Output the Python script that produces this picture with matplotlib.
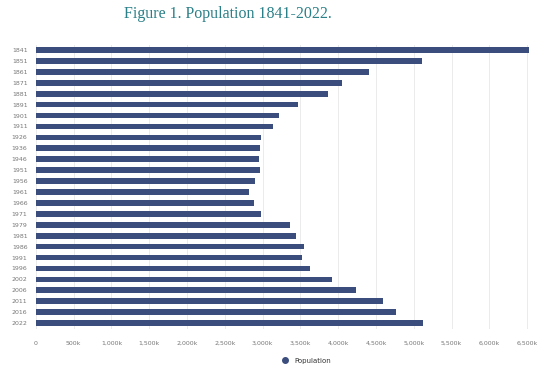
import numpy as np
import matplotlib.pyplot as plt
from matplotlib.ticker import FuncFormatter

years = ["1841", "1851", "1861", "1871", "1881", "1891", "1901", "1911", "1926",
         "1936", "1946", "1951", "1956", "1961", "1966", "1971", "1979", "1981",
         "1986", "1991", "1996", "2002", "2006", "2011", "2016", "2022"]
population = [6528799, 5111557, 4402111, 4053187, 3870020, 3468694, 3221823,
              3139688, 2971992, 2968420, 2955107, 2960593, 2898264, 2818341,
              2884002, 2978248, 3368217, 3443405, 3540643, 3525719, 3626087,
              3917203, 4239848, 4588252, 4761865, 5123536]
x_ticks = np.arange(0, 6500001, 500000)

bar_color = "#3a4d7d"

fig = plt.figure(figsize=(5.52, 3.71), dpi=100)
ax = fig.add_axes([0.065, 0.1145, 0.897, 0.7655])

ypos = np.arange(len(years))
ax.barh(ypos, population, height=0.52, color=bar_color, zorder=3, label="Population")
ax.set_ylim(len(years) - 0.5, -0.5)
ax.set_xlim(0, 6.55e6)
ax.set_yticks(ypos)
ax.set_yticklabels(years)
ax.set_xticks(x_ticks)
ax.xaxis.set_major_formatter(FuncFormatter(lambda v, p: "0" if v == 0 else "{:,.0f}k".format(v / 1000)))
ax.tick_params(axis="both", length=0, labelsize=4.5, colors="#777777")
ax.tick_params(axis="x", pad=9)
ax.tick_params(axis="y", pad=6)
ax.grid(axis="x", color="#ebebeb", linewidth=0.7, zorder=0)
for s in ax.spines.values():
    s.set_visible(False)

fig.text(0.413, 0.962, "Figure 1. Population 1841-2022.", ha="center", va="center",
         fontsize=11.5, color="#2a8088", family="Liberation Serif")

fig.legend(handles=[plt.Line2D([], [], marker="o", linestyle="", color=bar_color, markersize=4)],
           labels=["Population"], loc="center", bbox_to_anchor=(0.552, 0.028),
           frameon=False, fontsize=5, handletextpad=0.4, labelcolor="#333333")

fig.savefig("out.png", dpi=100)
